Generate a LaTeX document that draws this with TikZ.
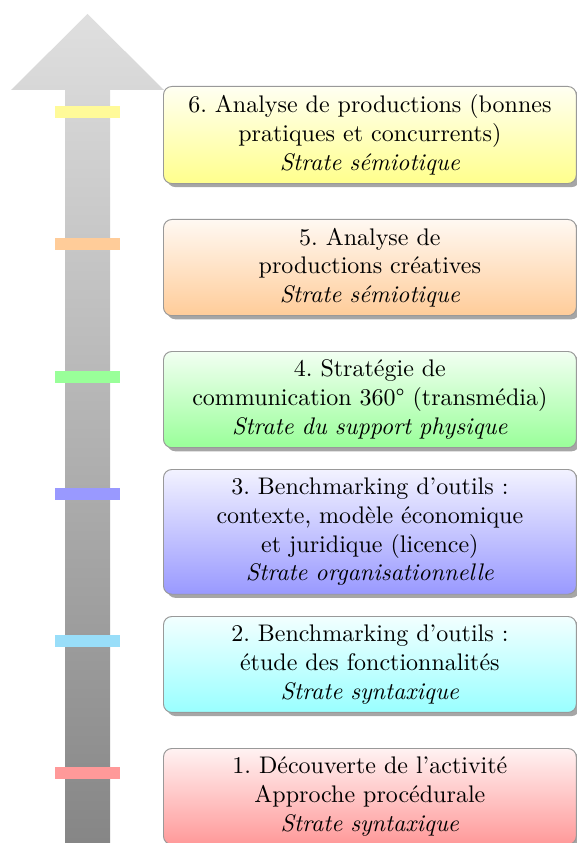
\documentclass[tikz,border=0pt]{standalone}
\usetikzlibrary{shadows}
\frenchspacing

\begin{document}
\begin{tikzpicture}[x=0.41667pt,y=-0.41667pt,
    stratebox/.style={draw=gray!80, rounded corners=3.5pt, anchor=north west,
        text width=164pt, align=center, inner xsep=4pt, inner ysep=3.5pt,
        drop shadow={shadow xshift=1.5pt,shadow yshift=-1.5pt,opacity=.7}},
    marker/.style={minimum width=26.7pt, minimum height=5.4pt, inner sep=0pt}]

    \useasboundingbox (0,0) rectangle (576,843);

    % big arrow going up
    \shade[top color=gray!25, bottom color=gray!95]
        (65,843) -- (65,90) -- (11,90) -- (87.5,14) -- (164,90) -- (110,90) -- (110,843) -- cycle;

    % markers on the arrow
    \node[marker, fill=yellow!40] (m6) at (87.5,112) {};
    \node[marker, fill=orange!40] (m5) at (87.5,244) {};
    \node[marker, fill=green!40] (m4) at (87.5,377) {};
    \node[marker, fill=blue!40] (m3) at (87.5,494) {};
    \node[marker, fill=cyan!40] (m2) at (87.5,641) {};
    \node[marker, fill=red!40] (m1) at (87.5,773) {};

    % steps
    \node[stratebox, top color=yellow!5, bottom color=yellow!45] (s6) at (163,86)
        {6. Analyse de productions (bonnes\\ pratiques et concurrents)\\ \textit{Strate sémiotique}};
    \node[stratebox, top color=orange!5, bottom color=orange!40] (s5) at (163,219)
        {5. Analyse de\\ productions créatives\\ \textit{Strate sémiotique}};
    \node[stratebox, top color=green!5, bottom color=green!40] (s4) at (163,351)
        {4. Stratégie de\\ communication 360° (transmédia)\\ \textit{Strate du support physique}};
    \node[stratebox, top color=blue!5, bottom color=blue!40] (s3) at (163,469)
        {3. Benchmarking d'outils~:\\ contexte, modèle économique\\ et juridique (licence)\\ \textit{Strate organisationnelle}};
    \node[stratebox, top color=cyan!5, bottom color=cyan!40] (s2) at (163,616)
        {2. Benchmarking d'outils~:\\ étude des fonctionnalités\\ \textit{Strate syntaxique}};
    \node[stratebox, top color=red!5, bottom color=red!40] (s1) at (163,748)
        {1. Découverte de l'activité\\ Approche procédurale\\ \textit{Strate syntaxique}};

\end{tikzpicture}
\end{document}
